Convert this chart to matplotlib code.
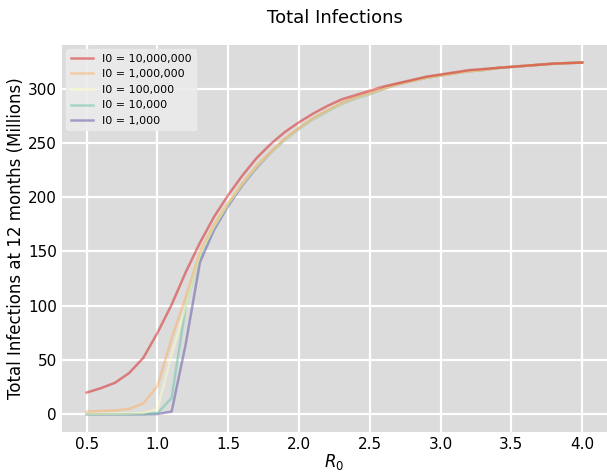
import matplotlib

matplotlib.use("Agg")

import matplotlib.pyplot as plt
import numpy as np

r0 = np.round(np.arange(0.5, 4.01, 0.1), 1)

# total infections at 12 months, millions, one list per initial infected count
inf_10m = [20, 24, 29, 38, 52, 75, 101, 131, 158, 182, 202, 220, 236, 249, 260, 269, 277,
           284, 290, 294, 298, 302, 305, 308, 311, 313, 315, 317, 318, 319, 320, 321, 322,
           323, 323.5, 324]
inf_1m = [2.5, 3, 3.5, 5, 10, 26, 70, 108, 150, 175, 195, 213, 229, 242, 254, 264, 273,
          280, 287, 292, 296, 300, 304, 307, 310, 312, 314, 316, 317, 319, 320, 321, 322,
          323, 323.5, 324]
inf_100k = [0.3, 0.4, 0.5, 0.7, 1.2, 5, 55, 100, 148, 173, 194, 212, 228, 241, 253, 263,
            272, 279, 286, 291, 295, 300, 304, 307, 310, 312, 314, 316, 317, 319, 320,
            321, 322, 323, 323.5, 324]
inf_10k = [0, 0, 0, 0.1, 0.2, 1, 15, 100, 146, 172, 193, 212, 228, 241, 253, 263, 272,
           279, 286, 291, 295, 300, 304, 307, 310, 312, 314, 316, 317, 319, 320, 321,
           322, 323, 323.5, 324]
inf_1k = [0, 0, 0, 0, 0, 0.2, 2.5, 65, 140, 170, 192, 211, 227, 241, 253, 263, 272, 279,
          286, 291, 295, 300, 304, 307, 310, 312, 314, 316, 317, 319, 320, 321, 322, 323,
          323.5, 324]

labels = ["I0 = 10,000,000", "I0 = 1,000,000", "I0 = 100,000", "I0 = 10,000", "I0 = 1,000"]
colors = ["#d7191c", "#fdae61", "#ffffbf", "#66c2a5", "#5e4fa2"]
series = [inf_10m, inf_1m, inf_100k, inf_10k, inf_1k]

fig = plt.figure(figsize=(6.07, 4.73), dpi=100, facecolor="white")
ax = fig.add_axes([0.102, 0.087, 0.898, 0.818])
ax.set_facecolor("#dcdcdc")

# smallest seed drawn first so the large-seed curve sits on top
handles = {}
for ys, label, color in reversed(list(zip(series, labels, colors))):
    (line,) = ax.plot(r0, ys, color=color, alpha=0.5, linewidth=1.8, label=label)
    handles[label] = line

ax.grid(True, color="white", linewidth=1.6)
ax.set_axisbelow(True)
for spine in ax.spines.values():
    spine.set_visible(False)
ax.tick_params(length=0, labelsize=11, pad=3.5)
ax.set_xticks([0.5, 1.0, 1.5, 2.0, 2.5, 3.0, 3.5, 4.0])
ax.set_yticks([0, 50, 100, 150, 200, 250, 300])

ax.set_xlabel("$R_0$", fontsize=12, labelpad=0)
ax.set_ylabel("Total Infections at 12 months (Millions)", fontsize=12, labelpad=2)
ax.set_title("Total Infections", fontsize=13, pad=16)

ax.legend([handles[l] for l in labels], labels, loc="upper left", fontsize=8,
          frameon=True, facecolor="#ebebeb", edgecolor="#ebebeb", framealpha=0.9,
          handlelength=2.0, borderaxespad=0.4)

plt.savefig("out.png", dpi=100, facecolor=fig.get_facecolor())
plt.close(fig)
